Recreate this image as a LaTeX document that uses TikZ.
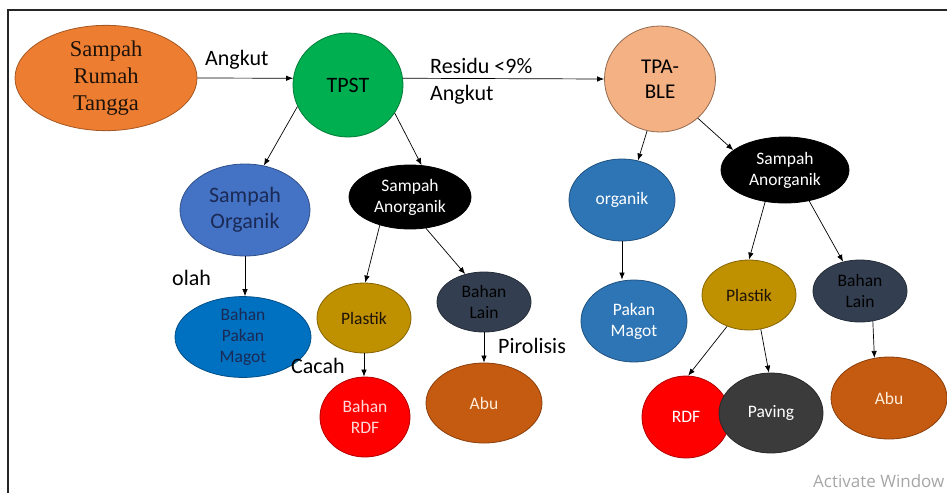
\documentclass[tikz,border=0pt]{standalone}
\usepackage{fontspec}
\setmainfont{Carlito}
\newfontfamily\serifrt{Liberation Serif}
\newfontfamily\wmfont{Open Sans}
\usetikzlibrary{shapes.geometric,arrows.meta}
\definecolor{cSrt}{HTML}{ED7D31}
\definecolor{cTpst}{HTML}{00B050}
\definecolor{cTpa}{HTML}{F4B183}
\definecolor{cSorg}{HTML}{4472C4}
\definecolor{cBpm}{HTML}{0070C0}
\definecolor{cPlas}{HTML}{BF9000}
\definecolor{cLain}{HTML}{333F50}
\definecolor{cRdf}{HTML}{FF0000}
\definecolor{cAbu}{HTML}{C55A11}
\definecolor{cOrg}{HTML}{2E75B6}
\definecolor{cPav}{HTML}{3B3B3B}
\definecolor{cNavy}{HTML}{1B2A55}
\begin{document}
\begin{tikzpicture}[x=1pt,y=-1pt,
  blob/.style={ellipse,inner sep=0pt,line width=0.8pt,align=center,
    font=\fontsize{17.5}{21}\selectfont},
  conn/.style={-{Latex[length=7pt,width=5.5pt]},line width=0.7pt},
  lbl/.style={font=\fontsize{22}{26}\selectfont,anchor=base west,inner sep=0pt}]
\useasboundingbox (0,0) rectangle (947,493);
\draw[line width=2pt,draw=black!85] (8,493) -- (8,10) -- (947,10);

% top row
\node[blob,fill=cSrt,draw=cSrt!70!black,minimum width=182pt,minimum height=90pt,
  font=\serifrt\fontsize{22.5}{27}\selectfont,text={black!85!brown}] (srt) at (106,78) {Sampah\\Rumah\\Tangga};
\node[blob,fill=cTpst,draw=cTpst!70!black,minimum width=110pt,minimum height=104pt,
  font=\fontsize{22}{26}\selectfont] (tpst) at (348,85) {TPST};
\node[blob,fill=cTpa,draw=cTpa!60!black,minimum width=111pt,minimum height=106pt,
  font=\fontsize{21}{25}\selectfont] (tpa) at (660,79) {TPA-\\BLE};

% left branch
\node[blob,fill=cSorg,draw=cSorg!70!black,minimum width=130pt,minimum height=92pt,
  font=\fontsize{22}{26}\selectfont,text=cNavy] (sorg) at (245,210) {Sampah\\Organik};
\node[blob,fill=black,draw=black,minimum width=122pt,minimum height=64pt,text=white] (sano) at (410,197) {Sampah\\Anorganik};
\node[blob,fill=cBpm,draw=cBpm!70!black,minimum width=136pt,minimum height=68pt,text=cNavy] (bpm) at (243,337) {Bahan\\Pakan\\Magot};
\node[blob,fill=cPlas,draw=cPlas!70!black,minimum width=94pt,minimum height=70pt,text=black!85!brown] (plas) at (364,318) {Plastik};
\node[blob,fill=cLain,draw=cLain!70!black,minimum width=94pt,minimum height=60pt,text=black] (lain) at (484,302) {Bahan\\Lain};
\node[blob,fill=cRdf,draw=cRdf!70!black,minimum width=90pt,minimum height=80pt,text=red!15] (rdf) at (365,417) {Bahan\\RDF};
\node[blob,fill=cAbu,draw=cAbu!70!black,minimum width=116pt,minimum height=80pt,text=orange!15] (abu) at (484,403) {Abu};

% right branch
\node[blob,fill=cOrg,draw=cOrg!70!black,minimum width=106pt,minimum height=82pt,text=white] (org) at (622,200) {organik};
\node[blob,fill=black,draw=black,minimum width=128pt,minimum height=66pt,text=white] (sanob) at (785,170) {Sampah\\Anorganik};
\node[blob,fill=cOrg,draw=cOrg!70!black,minimum width=106pt,minimum height=82pt,text=white] (pm) at (634,321) {Pakan\\Magot};
\node[blob,fill=cPlas,draw=cPlas!70!black,minimum width=94pt,minimum height=70pt,text=black!85!brown] (plasb) at (749,295) {Plastik};
\node[blob,fill=cLain,draw=cLain!70!black,minimum width=94pt,minimum height=62pt,text=black] (lainb) at (860,291) {Bahan\\Lain};
\node[blob,fill=cRdf,draw=cRdf!70!black,minimum width=88pt,minimum height=82pt,text=white] (rdfb) at (686,417) {RDF};
\node[blob,fill=cPav,draw=cPav!70!black,minimum width=104pt,minimum height=80pt,text=white] (pav) at (771,413) {Paving};
\node[blob,fill=cAbu,draw=cAbu!70!black,minimum width=116pt,minimum height=82pt,text=orange!15] (abub) at (889,398) {Abu};

% connectors
\draw[conn] (srt.east) -- (tpst.173);
\draw[conn] (tpst.7) -- (tpa.west);
\draw[conn] (tpst.203) -- (sorg.67);
\draw[conn] (tpst.329) -- (sano.70);
\draw[conn] (sorg.south) -- (sorg.south |- bpm.north);
\draw[conn] (sano.223) -- (plas.88);
\draw[conn] (sano.297) -- (lain.124);
\draw[conn] (plas.south) -- (plas.south |- rdf.north);
\draw[conn] (lain.south) -- (abu.north);
\draw[conn] (tpa.256) -- (org.68);
\draw[conn] (tpa.314) -- (sanob.159);
\draw[conn] (org.south) -- (org.south |- pm.north);
\draw[conn] (sanob.238) -- (plasb.north);
\draw[conn] (sanob.308) -- (lainb.120);
\draw[conn] (plasb.235) -- (rdfb.87);
\draw[conn] (plasb.289) -- (pav.93);
\draw[conn] (lainb.293) -- (abub.110);

% labels
\node[lbl] (lAngkut) at (205,65) {Angkut};
\node[lbl] (lResidu) at (430,73) {Residu <9\%};
\node[lbl] (lAngkutb) at (430,100) {Angkut};
\node[lbl] (lOlah) at (172,285) {olah};
\node[lbl] (lCacah) at (291,373) {Cacah};
\node[lbl] (lPiro) at (498,353) {Pirolisis};
\node[anchor=base west,inner sep=0pt,text=black!35,font=\wmfont\fontsize{17}{20}\selectfont] (wm) at (813,487) {Activate Window};
\end{tikzpicture}
\end{document}
